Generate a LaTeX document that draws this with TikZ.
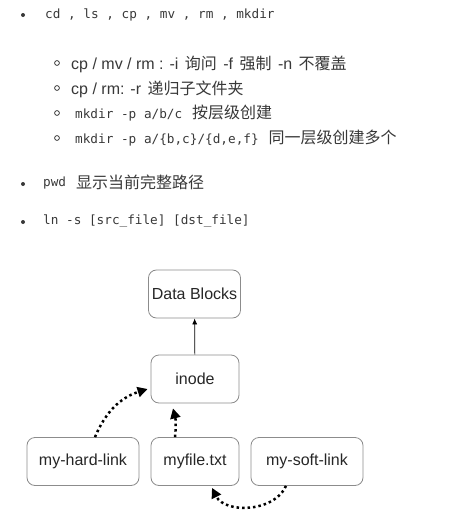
\documentclass[tikz,border=0pt]{standalone}
\usepackage{fontspec}
\setmainfont{Liberation Sans}
\setmonofont{DejaVu Sans Mono}
\newfontfamily\cjk{Noto Sans CJK SC}
\usetikzlibrary{arrows.meta}
\colorlet{listText}{black!78}
\colorlet{boxLine}{black!45}
\colorlet{linkDots}{black}
\NewDocumentCommand\mono{m}{{\ttfamily\fontsize{12.7}{15}\selectfont #1}}
\NewDocumentCommand\zh{m}{\hspace{2pt}{\cjk\fontsize{16}{18}\selectfont #1}\hspace{2pt}}
\NewDocumentCommand\TopDot{m}%
{%
\fill[listText] (23,#1) circle (2pt);%
}
\NewDocumentCommand\SubDot{m}%
{%
\draw[listText,line width=.8pt] (57,#1) circle (2.4pt);%
}
\tikzset{
  listline/.style={anchor=base west,inner sep=0pt,text=listText,font=\fontsize{16}{18}\selectfont},
  block/.style={draw=boxLine,line width=.8pt,rounded corners=8pt,minimum height=48pt,
    font=\fontsize{16}{18}\selectfont,text=black!85},
  linkarrow/.style={linkDots,line width=2.5pt,dash pattern=on 2.5pt off 3pt,
    -{Triangle[length=10pt,width=10pt]}}
}

\begin{document}
\begin{tikzpicture}[x=1pt,y=-1pt]
\useasboundingbox (0,0) rectangle (454,522);
% command list
\TopDot{15}
\node[listline] (cmds) at (45,18) {\mono{cd , ls , cp , mv , rm , mkdir}};
\SubDot{63}
\node[listline] (opts) at (71,69) {cp / mv / rm : -i \zh{询问} -f \zh{强制} -n \zh{不覆盖}};
\SubDot{88}
\node[listline] (recur) at (71,94) {cp / rm: -r \zh{递归子文件夹}};
\SubDot{113}
\node[listline] (mkp) at (75,118) {\mono{mkdir -p a/b/c}\hspace{8pt}\zh{按层级创建}};
\SubDot{138}
\node[listline] (mkmany) at (75,143) {\mono{mkdir -p a/\{b,c\}/\{d,e,f\}}\hspace{8pt}\zh{同一层级创建多个}};
\TopDot{184}
\node[listline] (pwd) at (43,188) {\raisebox{2pt}{\mono{pwd}}\hspace{8pt}\zh{显示当前完整路径}};
\TopDot{222}
\node[listline] (ln) at (43,224) {\mono{ln -s [src\_file] [dst\_file]}};
% links diagram
\node[block,minimum width=89pt] (data) at (194.5,294) {Data Blocks};
\node[block,minimum width=88pt] (inode) at (195,379) {inode};
\node[block,minimum width=112pt] (hard) at (83,461.5) {my-hard-link};
\node[block,minimum width=88pt] (file) at (195,461.5) {myfile.txt};
\node[block,minimum width=112pt] (soft) at (307,461.5) {my-soft-link};
\draw[-{Latex[length=6pt,width=5pt]},line width=.7pt] (inode) -- (data);
\coordinate (hardOut) at ([xshift=12pt]hard.north);
\coordinate (hardIn) at ([xshift=-3pt,yshift=-10pt]inode.west);
\draw[linkarrow] (hardOut) to[bend left=25] (hardIn);
\coordinate (fileOut) at ([xshift=-20pt]file.north);
\coordinate (fileIn) at ([xshift=-22pt,yshift=-5pt]inode.south);
\draw[linkarrow] (fileOut) to[bend right=10] (fileIn);
\coordinate (softOut) at ([xshift=-21pt]soft.south);
\coordinate (softIn) at ([xshift=17pt,yshift=-2pt]file.south);
\draw[linkarrow] (softOut) to[bend left=65] (softIn);
\end{tikzpicture}
\end{document}
